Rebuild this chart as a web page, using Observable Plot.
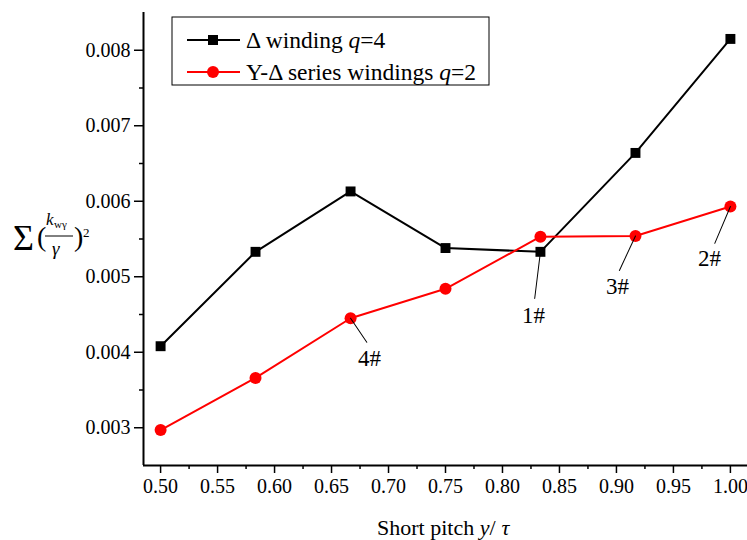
<!DOCTYPE html>
<html><head><meta charset="utf-8">
<script src="https://cdn.jsdelivr.net/npm/d3@7"></script>
<script src="https://cdn.jsdelivr.net/npm/@observablehq/plot@0.6"></script>
<style>body{margin:0;background:#fff}</style>
</head><body><div id="chart"></div>
<script>
const pitch = [0.5, 0.5833, 0.6667, 0.75, 0.8333, 0.9167, 1.0];
const deltaQ4 = [0.00408, 0.00533, 0.00613, 0.00538, 0.00533, 0.00664, 0.00815];
const yDeltaQ2 = [0.00297, 0.00366, 0.00445, 0.00484, 0.00553, 0.00554, 0.00593];
const seriesNames = ["Δ winding ", "Y-Δ series windings "];
const seriesQ = ["4", "2"];
const xTicks = [0.50, 0.55, 0.60, 0.65, 0.70, 0.75, 0.80, 0.85, 0.90, 0.95, 1.00];
const xMinor = [0.525, 0.575, 0.625, 0.675, 0.725, 0.775, 0.825, 0.875, 0.925, 0.975];
const yTicks = [0.003, 0.004, 0.005, 0.006, 0.007, 0.008];
const yMinor = [0.0035, 0.0045, 0.0055, 0.0065, 0.0075];
const annLabels = ["1#", "2#", "3#", "4#"];
const annSeries = [0, 1, 1, 1];
const annIndex = [4, 6, 5, 2];

const font = "'Liberation Serif', 'Times New Roman', serif";
const deltaData = pitch.map((x, i) => ({x, y: deltaQ4[i]}));
const ydData = pitch.map((x, i) => ({x, y: yDeltaQ2[i]}));
const seriesData = [deltaData, ydData];
const ann = annLabels.map((t, i) => ({text: t, ...seriesData[annSeries[i]][annIndex[i]]}));

const lineShape = {draw(ctx, l) { ctx.moveTo(0, 0); ctx.lineTo(0, -l); }};
// per-annotation leader geometry (pixel offsets = styling)
const leaderStyle = [
  {length: 47, rotate: 187, dx: -7, dy: 64},
  {length: 40, rotate: 203, dx: -21, dy: 52},
  {length: 38, rotate: 205, dx: -18, dy: 51},
  {length: 29, rotate: 146, dx: 19, dy: 40}
];
const annMarks = ann.flatMap((a, i) => [
  Plot.vector([a], {x: "x", y: "y", length: leaderStyle[i].length, rotate: leaderStyle[i].rotate,
    anchor: "start", shape: lineShape, stroke: "black", strokeWidth: 1}),
  Plot.text([a], {x: "x", y: "y", text: "text", dx: leaderStyle[i].dx, dy: leaderStyle[i].dy,
    fontSize: 23, fill: "black"})
]);

const plot = Plot.plot({
  width: 747, height: 540,
  marginLeft: 143, marginTop: 12, marginRight: 0, marginBottom: 75,
  style: {fontFamily: font, fontSize: "20px", background: "white", color: "black", overflow: "visible"},
  x: {domain: [0.485, 1.015]},
  y: {domain: [0.0025, 0.0085]},
  marks: [
    Plot.axisX(xMinor, {tickSize: 4, tickFormat: () => "", label: null, strokeWidth: 1.5}),
    Plot.axisX(xTicks, {tickSize: 8, tickPadding: 5, tickFormat: d3.format(".2f"), label: null, strokeWidth: 1.5, fontSize: 20}),
    Plot.axisY(yMinor, {tickSize: 4, tickFormat: () => "", label: null, strokeWidth: 1.5}),
    Plot.axisY(yTicks, {tickSize: 9, tickPadding: 4, tickFormat: d3.format(".3f"), label: null, strokeWidth: 1.5, fontSize: 20}),
    Plot.ruleX([0.485], {strokeWidth: 2}),
    Plot.ruleY([0.0025], {strokeWidth: 2}),
    Plot.line(deltaData, {x: "x", y: "y", stroke: "black", strokeWidth: 2}),
    Plot.line(ydData, {x: "x", y: "y", stroke: "#ff0000", strokeWidth: 2}),
    Plot.dot(deltaData, {x: "x", y: "y", symbol: "square", fill: "black", r: 5.6}),
    Plot.dot(ydData, {x: "x", y: "y", symbol: "circle", fill: "#ff0000", r: 6}),
    ...annMarks
  ]
});
document.getElementById("chart").append(plot);

const svg = d3.select(plot);
// Legend
const lg = svg.append("g").attr("font-family", font).attr("font-size", 23.5).attr("text-anchor", "start");
lg.append("rect").attr("x", 172).attr("y", 17).attr("width", 317).attr("height", 68)
  .attr("fill", "white").attr("stroke", "black").attr("stroke-width", 1);
const colors = ["black", "#ff0000"];
seriesNames.forEach((name, i) => {
  const cy = 40 + i * 32;
  lg.append("line").attr("x1", 187).attr("x2", 240).attr("y1", cy).attr("y2", cy)
    .attr("stroke", colors[i]).attr("stroke-width", 2);
  if (i === 0) lg.append("rect").attr("x", 208).attr("y", cy - 5).attr("width", 10).attr("height", 10).attr("fill", "black");
  else lg.append("circle").attr("cx", 213).attr("cy", cy).attr("r", 6).attr("fill", "#ff0000");
  const t = lg.append("text").attr("x", 246).attr("y", cy).attr("dy", "0.35em");
  t.append("tspan").text(name);
  t.append("tspan").attr("font-style", "italic").text("q");
  t.append("tspan").text("=" + seriesQ[i]);
});
// X label
const xl = svg.append("text").attr("x", 377).attr("y", 535).attr("text-anchor", "start")
  .attr("font-family", font).attr("font-size", 22);
xl.append("tspan").text("Short pitch ");
xl.append("tspan").attr("font-style", "italic").text("y");
xl.append("tspan").text("/");
xl.append("tspan").attr("font-style", "italic").attr("dx", 6).text("τ");
// Y label
const yl = svg.append("g").attr("font-family", font).attr("fill", "black").attr("text-anchor", "start");
yl.append("text").attr("x", 13).attr("y", 250).attr("font-size", 36).text("Σ");
yl.append("text").attr("x", 37).attr("y", 246).attr("font-size", 28).text("(");
yl.append("text").attr("x", 46).attr("y", 225).attr("font-size", 17).attr("font-style", "italic").text("k");
yl.append("text").attr("x", 54).attr("y", 228).attr("font-size", 11).text("wγ");
yl.append("line").attr("x1", 45).attr("x2", 73).attr("y1", 236).attr("y2", 236).attr("stroke", "black").attr("stroke-width", 1);
yl.append("text").attr("x", 52).attr("y", 255).attr("font-size", 19).attr("font-style", "italic").text("γ");
yl.append("text").attr("x", 74).attr("y", 246).attr("font-size", 28).text(")");
yl.append("text").attr("x", 83).attr("y", 237).attr("font-size", 13).text("2");
</script>
</body></html>
